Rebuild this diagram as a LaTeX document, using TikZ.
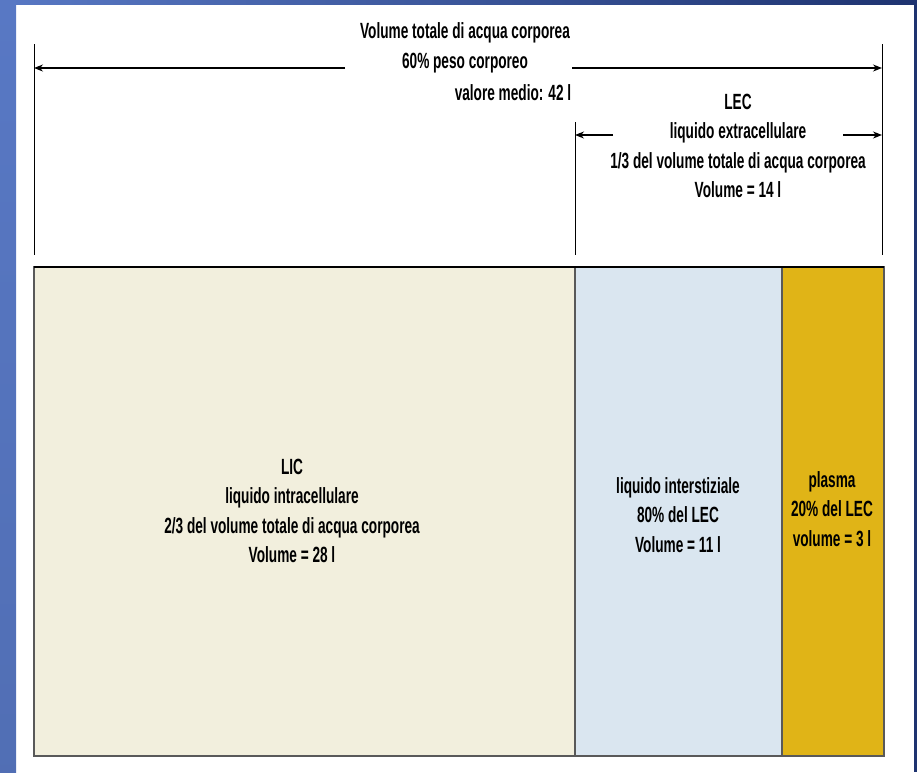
\documentclass[tikz,border=0pt]{standalone}
\usepackage{fontspec}
\setmainfont{Liberation Sans}[FakeStretch=0.62]
\usetikzlibrary{arrows.meta}

\definecolor{slideblue}{HTML}{5878C4}
\definecolor{slidenavy}{HTML}{1E3370}
\definecolor{licfill}{HTML}{F2EFDD}
\definecolor{isfill}{HTML}{DAE6F0}
\definecolor{plfill}{HTML}{E0B417}

\tikzset{
  txt/.style={align=center, inner sep=0pt, font=\fontsize{22}{29.5}\selectfont\bfseries},
  compartment/.style={draw=black!65, line width=1.2pt, anchor=north west, inner sep=0pt, outer sep=0pt, minimum height=489pt},
  bound/.style={line width=1pt},
  span/.style={line width=1.3pt, -{Stealth[length=9pt,width=7pt]}},
}

\begin{document}
\begin{tikzpicture}[x=1pt,y=-1pt]
  \useasboundingbox (0,0) rectangle (917,772);
  % slide background
  \shade[left color=slideblue, right color=slidenavy] (0,0) rectangle (917,4);
  \shade[top color=slideblue, bottom color=slideblue!92!black] (0,0) rectangle (16,772);
  \fill[slidenavy] (914,0) rectangle (917,772);

  % compartments
  \node[compartment, fill=licfill, minimum width=541pt] (lic) at (34,267) {};
  \node[compartment, fill=isfill, minimum width=207pt] (lis) at (lic.north east) {};
  \node[compartment, fill=plfill, minimum width=102pt] (pla) at (lis.north east) {};
  \draw[black, line width=1.4pt] (lic.north west) -- (pla.north east);

  \node[txt] (lictxt) at (292,511) {LIC\\liquido intracellulare\\2/3 del volume totale di acqua corporea\\Volume = 28 l};
  \node[txt] (listxt) at (678,515) {liquido interstiziale\\80\% del LEC\\Volume = 11 l};
  \node[txt] (platxt) at (832,509) {plasma\\20\% del LEC\\volume = 3 l};

  % bounds
  \coordinate (a1) at (34,44);  \coordinate (a2) at (34,255);
  \coordinate (b1) at (882,44); \coordinate (b2) at (882,255);
  \coordinate (c1) at (575,122); \coordinate (c2) at (575,255);
  \draw[bound] (a1) -- (a2);
  \draw[bound] (b1) -- (b2);
  \draw[bound] (c1) -- (c2);

  % total water
  \node[txt] (tot) at (465,48) {Volume totale di acqua corporea\\60\% peso corporeo};
  \node[txt] (media) at (513,93) {valore medio: 42 l};
  \coordinate (t1) at (345,68); \coordinate (t2) at (572,68);
  \draw[span] (t1) -- (t1 -| a1);
  \draw[span] (t2) -- (t2 -| b1);

  % LEC
  \node[txt] (lec) at (738,146) {LEC\\liquido extracellulare\\1/3 del volume totale di acqua corporea\\Volume = 14 l};
  \coordinate (e1) at (613,135); \coordinate (e2) at (843,135);
  \draw[span] (e1) -- (e1 -| c1);
  \draw[span] (e2) -- (e2 -| b1);
\end{tikzpicture}
\end{document}
